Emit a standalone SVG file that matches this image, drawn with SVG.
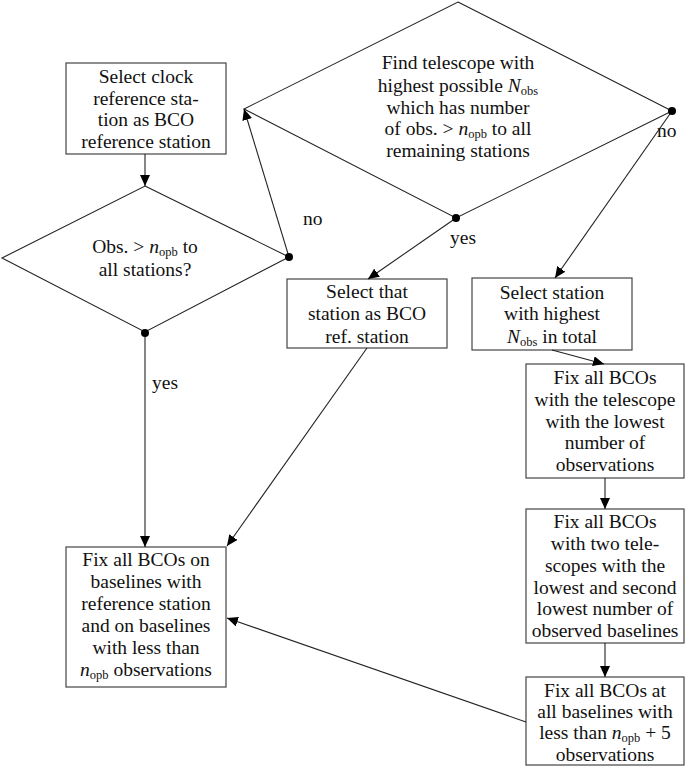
<svg xmlns="http://www.w3.org/2000/svg" width="685" height="768" viewBox="0 0 685 768">
<defs>
<marker id="arr" markerUnits="userSpaceOnUse" markerWidth="12" markerHeight="10" refX="11" refY="5" orient="auto">
<path d="M0,0 L11,5 L0,10 Z" fill="#000"/>
</marker>
<style>
.box{fill:#fff;stroke:#444;stroke-width:1.2}
.dia{fill:#fff;stroke:#222;stroke-width:1.1}
.t{font-family:"Liberation Serif","Times New Roman",serif;font-size:19.5px;fill:#111;text-anchor:middle}
.lbl{font-family:"Liberation Serif","Times New Roman",serif;font-size:19.5px;fill:#111}
.m{font-style:italic}
.s{font-size:12.5px}
.c{stroke:#222;stroke-width:1.1;fill:none;marker-end:url(#arr)}
.dot{fill:#000}
</style>
</defs>
<rect width="685" height="768" fill="#fff"/>

<g id="select-clock">
<rect class="box" x="66" y="63" width="160" height="91"/>
<text class="t" x="146" y="83">Select clock</text>
<text class="t" x="146" y="105">reference sta-</text>
<text class="t" x="146" y="126">tion as BCO</text>
<text class="t" x="146" y="148">reference station</text>
</g>

<g id="obs-all">
<polygon class="dia" points="145,186 289,257 145,332 2,258"/>
<text class="t" x="145" y="253">Obs. &gt; <tspan class="m">n</tspan><tspan class="s" dy="3">opb</tspan><tspan dy="-3"> to</tspan></text>
<text class="t" x="145" y="276">all stations?</text>
</g>

<g id="find-telescope">
<polygon class="dia" points="458,2 672,111 456,218 244,109"/>
<text class="t" x="458" y="69">Find telescope with</text>
<text class="t" x="458" y="92">highest possible <tspan class="m">N</tspan><tspan class="s" dy="3">obs</tspan></text>
<text class="t" x="458" y="114">which has number</text>
<text class="t" x="458" y="135">of obs. &gt; <tspan class="m">n</tspan><tspan class="s" dy="3">opb</tspan><tspan dy="-3"> to all</tspan></text>
<text class="t" x="458" y="157">remaining stations</text>
</g>

<g id="select-that">
<rect class="box" x="287" y="279" width="160" height="69"/>
<text class="t" x="367" y="298">Select that</text>
<text class="t" x="367" y="320">station as BCO</text>
<text class="t" x="367" y="343">ref. station</text>
</g>

<g id="select-highest">
<rect class="box" x="472" y="278" width="160" height="72"/>
<text class="t" x="552" y="299">Select station</text>
<text class="t" x="552" y="320">with highest</text>
<text class="t" x="552" y="343"><tspan class="m">N</tspan><tspan class="s" dy="3">obs</tspan><tspan dy="-3"> in total</tspan></text>
</g>

<g id="fix-lowest">
<rect class="box" x="526" y="364" width="158" height="114"/>
<text class="t" x="605" y="384">Fix all BCOs</text>
<text class="t" x="605" y="406">with the telescope</text>
<text class="t" x="605" y="428">with the lowest</text>
<text class="t" x="605" y="449">number of</text>
<text class="t" x="605" y="471">observations</text>
</g>

<g id="fix-two">
<rect class="box" x="526" y="509" width="158" height="134"/>
<text class="t" x="605" y="528">Fix all BCOs</text>
<text class="t" x="605" y="550">with two tele-</text>
<text class="t" x="605" y="572">scopes with the</text>
<text class="t" x="605" y="594">lowest and second</text>
<text class="t" x="605" y="615">lowest number of</text>
<text class="t" x="605" y="637">observed baselines</text>
</g>

<g id="fix-plus5">
<rect class="box" x="526" y="677" width="158" height="88"/>
<text class="t" x="605" y="697">Fix all BCOs at</text>
<text class="t" x="605" y="718">all baselines with</text>
<text class="t" x="605" y="739">less than <tspan class="m">n</tspan><tspan class="s" dy="3">opb</tspan><tspan dy="-3"> + 5</tspan></text>
<text class="t" x="605" y="761">observations</text>
</g>

<g id="fix-ref">
<rect class="box" x="66" y="547" width="160" height="140"/>
<text class="t" x="146" y="566">Fix all BCOs on</text>
<text class="t" x="146" y="588">baselines with</text>
<text class="t" x="146" y="610">reference station</text>
<text class="t" x="146" y="632">and on baselines</text>
<text class="t" x="146" y="654">with less than</text>
<text class="t" x="146" y="676"><tspan class="m">n</tspan><tspan class="s" dy="3">opb</tspan><tspan dy="-3"> observations</tspan></text>
</g>

<g id="connectors">
<line class="c" x1="145" y1="154" x2="145" y2="186"/>
<line class="c" x1="289" y1="257" x2="244" y2="109"/>
<line class="c" x1="145" y1="332" x2="145" y2="547"/>
<line class="c" x1="456" y1="218" x2="368" y2="279"/>
<line class="c" x1="672" y1="111" x2="555" y2="278"/>
<line class="c" x1="552" y1="350" x2="604" y2="364"/>
<line class="c" x1="605" y1="478" x2="605" y2="509"/>
<line class="c" x1="605" y1="643" x2="605" y2="677"/>
<line class="c" x1="526" y1="722" x2="227" y2="618"/>
<line class="c" x1="367" y1="348" x2="227" y2="546"/>
<circle class="dot" cx="289" cy="257" r="4"/>
<circle class="dot" cx="145" cy="333" r="4"/>
<circle class="dot" cx="456" cy="218" r="4"/>
<circle class="dot" cx="672" cy="111" r="4"/>
<text class="lbl" x="303" y="225">no</text>
<text class="lbl" x="152" y="389">yes</text>
<text class="lbl" x="450" y="244">yes</text>
<text class="lbl" x="657" y="137">no</text>
</g>
</svg>
